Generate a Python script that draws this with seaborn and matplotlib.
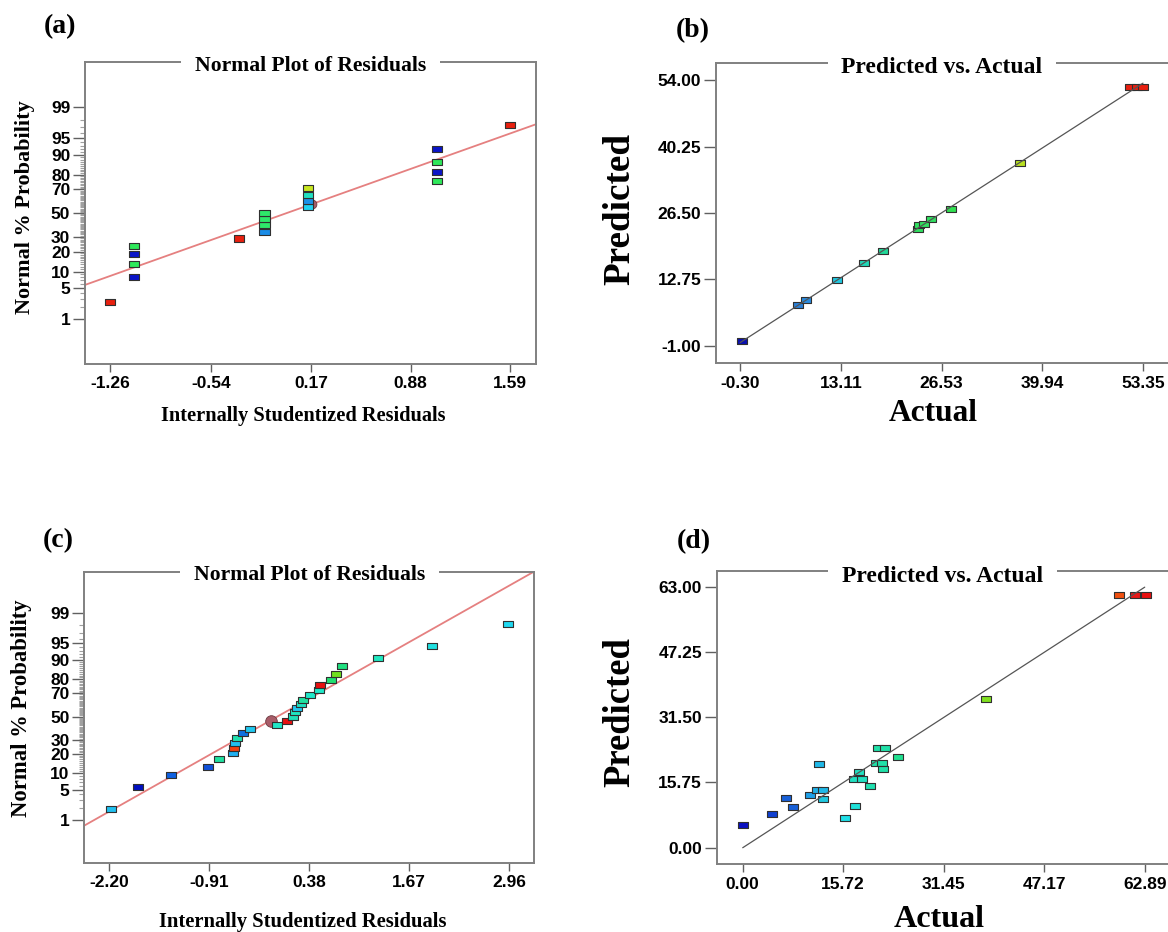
import numpy as np
import pandas as pd
import matplotlib
matplotlib.use("Agg")
import matplotlib.pyplot as plt
import seaborn as sns
from statistics import NormalDist
from matplotlib.markers import MarkerStyle
from matplotlib.ticker import FixedLocator, NullFormatter, FixedFormatter

# ---------------- data ----------------
# (a) normal plot of residuals
A_RESID = [-1.26, -1.09, -1.09, -1.09, -1.09, -0.34, -0.16, -0.16, -0.16, -0.16,
           0.15, 0.15, 0.15, 0.15, 1.07, 1.07, 1.07, 1.07, 1.59]
A_PROB = [2.6, 7.9, 13.2, 18.4, 23.7, 28.9, 34.2, 39.5, 44.7, 50.0,
          55.3, 60.5, 65.8, 71.1, 76.3, 81.6, 86.8, 92.1, 97.4]
A_COLORS = ["#e8200f", "#0a14c8", "#2ee85a", "#0a14c8", "#2ee85a", "#e8200f",
            "#1a8ce6", "#2ee86a", "#2ee86a", "#2ee86a", "#20d0f0", "#1a90e8",
            "#20e0c0", "#c8e620", "#2ee85a", "#0a14c8", "#2ee85a", "#0a14c8", "#e8200f"]
A_HIDDEN = [0.18, 57.9]
A_LINE = [1.098, 0.004]          # slope, intercept (z units)
A_XTICKS = [-1.26, -0.54, 0.17, 0.88, 1.59]

# (b) predicted vs actual
B_ACTUAL = [0.0, 7.35, 8.44, 12.64, 16.2, 18.7, 23.34, 23.5, 24.2, 25.1, 27.8, 36.96, 51.58, 52.55, 53.35]
B_PRED = [0.0, 7.48, 8.45, 12.65, 16.23, 18.7, 23.18, 24.0, 24.3, 25.3, 27.4, 36.9, 52.5, 52.5, 52.5]
B_COLORS = ["#0a10b0", "#2a80d8", "#2a8ce0", "#20c8e0", "#20d8b8", "#20d898", "#30e060",
            "#30e060", "#30e060", "#30e060", "#30e050", "#b8e020", "#e82010", "#e82010", "#e82010"]
B_XTICKS = [-0.30, 13.11, 26.53, 39.94, 53.35]
B_YTICKS = [-1.00, 12.75, 26.50, 40.25, 54.00]
B_LINE = [-0.30, 53.35]

# (c) normal plot of residuals
C_RESID = [-2.18, -1.83, -1.40, -0.93, -0.78, -0.61, -0.59, -0.58, -0.55, -0.48, -0.38, -0.04,
           0.09, 0.17, 0.20, 0.22, 0.27, 0.30, 0.39, 0.50, 0.52, 0.66, 0.72, 0.80, 1.27, 1.96, 2.95]
C_PROB = [1.9, 5.6, 9.3, 13.0, 16.7, 20.4, 24.1, 27.8, 31.5, 35.2, 38.9, 42.6, 46.3, 50.0,
          53.7, 57.4, 61.1, 64.8, 68.5, 72.2, 75.9, 79.6, 83.3, 87.0, 90.7, 94.4, 98.1]
C_COLORS = ["#20c0f0", "#0010c0", "#1060e0", "#1050d8", "#20e0a0", "#20b0f0", "#f04010",
            "#20c0f0", "#20e0b0", "#1070e0", "#20c8f0", "#20e8c8", "#e81010", "#20e0b8",
            "#20e8c0", "#20c8f0", "#20e0c0", "#20e0a0", "#20e8c8", "#20e8c8", "#e81010",
            "#20e070", "#70e020", "#20e080", "#20e8c0", "#20e0e0", "#20d8f0"]
C_HIDDEN = [-0.12, 45.9]
C_LINE = [0.985, 0.03]
C_XTICKS = [-2.20, -0.91, 0.38, 1.67, 2.96]

# (d) predicted vs actual
D_ACTUAL = [0.0, 4.52, 6.72, 7.88, 10.55, 11.65, 12.63, 12.0, 12.63, 16.0, 17.62, 17.44, 18.14,
            18.6, 19.93, 21.1, 22.25, 20.92, 21.85, 22.02, 24.28, 38.07, 58.82, 61.31, 63.05]
D_PRED = [5.55, 8.13, 11.99, 9.74, 12.71, 13.92, 13.92, 20.2, 11.83, 7.08, 10.06, 16.5, 18.18,
          16.65, 14.97, 23.98, 23.98, 20.52, 20.52, 18.9, 21.8, 35.8, 61.0, 61.0, 61.0]
D_COLORS = ["#0a10c0", "#1040d0", "#1860d8", "#1860d8", "#20a0e8", "#20b0e8", "#20b8e8",
            "#20b8e8", "#20c8e0", "#20e0e8", "#20e0d8", "#20e0c0", "#20e0c0", "#20e0c0",
            "#20e0b0", "#20e0a8", "#20e0a8", "#20e0a8", "#20e0a8", "#20e0a8", "#20e090",
            "#80e020", "#f05010", "#e81818", "#e81010"]
D_XTICKS = [0.00, 15.72, 31.45, 47.17, 62.89]
D_YTICKS = [0.00, 15.75, 31.50, 47.25, 63.00]
D_LINE = [0.0, 62.89]

PROB_TICKS = [1, 5, 10, 20, 30, 50, 70, 80, 90, 95, 99]

# ---------------- style ----------------
sns.set_style("white")
plt.rcParams["font.family"] = ["Liberation Sans", "DejaVu Sans"]
plt.rcParams["axes.linewidth"] = 1.4
plt.rcParams["axes.edgecolor"] = "#808080"
plt.rcParams["text.color"] = "black"
plt.rcParams["axes.labelcolor"] = "black"

W, H = 1168, 932
fig = plt.figure(figsize=(W / 100, H / 100), dpi=100)
renderer = fig.canvas.get_renderer()

SERIF = "Liberation Serif"
ND = NormalDist()


def _fwd(p):
    p = np.ma.filled(np.ma.asarray(p, dtype=float), np.nan)
    q = np.clip(p / 100.0, 1e-12, 1 - 1e-12)
    res = np.full(q.size, np.nan)
    for i, v in enumerate(q.ravel()):
        if np.isfinite(v):
            res[i] = ND.inv_cdf(float(v))
    return res.reshape(q.shape)


def _inv(z):
    z = np.ma.filled(np.ma.asarray(z, dtype=float), np.nan)
    res = np.full(z.size, np.nan)
    for i, v in enumerate(z.ravel()):
        if np.isfinite(v):
            res[i] = ND.cdf(float(v)) * 100.0
    return res.reshape(z.shape)


def add_axes_px(l, t, r, b):
    return fig.add_axes([l / W, 1 - b / H, (r - l) / W, (b - t) / H])


def fig_xy(x, y):
    return x / W, 1 - y / H


RECT = MarkerStyle([(-1, -0.6), (1, -0.6), (1, 0.6), (-1, 0.6), (-1, -0.6)])


def scatter(ax, xs, ys, colors, s=52):
    df = pd.DataFrame({"x": xs, "y": ys, "id": [f"p{i}" for i in range(len(xs))]})
    pal = {f"p{i}": c for i, c in enumerate(colors)}
    sns.scatterplot(data=df, x="x", y="y", hue="id", palette=pal, legend=False, ax=ax,
                    marker=RECT, s=s, edgecolor="#303030", linewidth=0.8, zorder=3)


def fit(t, target, vertical=False):
    for _ in range(3):
        bb = t.get_window_extent(renderer)
        cur = bb.height if vertical else bb.width
        t.set_fontsize(t.get_fontsize() * target / cur)


def title(ax, text, target_w, base_off_px):
    t = ax.annotate(text, xy=(0.5, 1.0), xycoords="axes fraction",
                    xytext=(0, -base_off_px * 0.72), textcoords="offset points",
                    ha="center", va="baseline", family=SERIF, weight="bold",
                    fontsize=16, zorder=5, annotation_clip=False, color="black")
    fit(t, target_w)
    fs = t.get_fontsize()
    t.set_bbox(dict(boxstyle=f"square,pad={10.0 / fs:.3f}", fc="white", ec="none"))
    return t


def xlabel(ax, text, cx, base_y, target_w):
    t = ax.set_xlabel(text, family=SERIF, weight="bold", fontsize=16, va="baseline", ha="center")
    ax.xaxis.set_label_coords(*fig_xy(cx, base_y), transform=fig.transFigure)
    fit(t, target_w)


def ylabel(ax, text, cx, cy, target_h):
    t = ax.set_ylabel(text, family=SERIF, weight="bold", fontsize=16, va="center", ha="center",
                      rotation=90)
    ax.yaxis.set_label_coords(*fig_xy(cx, cy), transform=fig.transFigure)
    fit(t, target_h, vertical=True)


def style_ticks(ax):
    ax.tick_params(axis="x", which="major", bottom=True, top=False, direction="out",
                   length=5.8, width=1.0, color="#606060", labelcolor="black",
                   labelsize=12.5, pad=3)
    ax.tick_params(axis="y", which="major", left=True, right=False, direction="out",
                   length=8.6, width=1.0, color="#606060", labelcolor="black",
                   labelsize=12.5, pad=2)
    for lab in ax.get_xticklabels() + ax.get_yticklabels():
        lab.set_fontweight("bold")


def normal_panel(ax, resid, prob, colors, hidden, line, xticks, xlim, ylim, hidden_size):
    ax.set_yscale("function", functions=(_fwd, _inv))
    xs = np.linspace(xlim[0], xlim[1], 200)
    ys = _inv(line[0] * xs + line[1])
    sns.lineplot(x=xs, y=ys, sort=False, estimator=None, color="#e58080", lw=1.3, ax=ax, zorder=2)
    sns.scatterplot(x=[hidden[0]], y=[hidden[1]], marker="o", s=hidden_size, color="#a85c68",
                    edgecolor="#6a3a40", linewidth=0.6, ax=ax, legend=False, zorder=2.5)
    scatter(ax, resid, prob, colors)
    ax.set_xlim(*xlim)
    ax.set_ylim(*ylim)
    ax.set_xticks(xticks)
    ax.set_xticklabels([f"{v:.2f}" for v in xticks])
    ax.yaxis.set_major_locator(FixedLocator(PROB_TICKS))
    ax.yaxis.set_major_formatter(FixedFormatter([str(v) for v in PROB_TICKS]))
    minor = [v for v in range(2, 99) if v not in PROB_TICKS]
    ax.yaxis.set_minor_locator(FixedLocator(minor))
    ax.yaxis.set_minor_formatter(NullFormatter())
    ax.tick_params(axis="y", which="minor", left=True, direction="out", length=3.8, width=0.8,
                   color="#a0a0a0")
    style_ticks(ax)


def pva_panel(ax, actual, pred, colors, line, xticks, yticks, xlim, ylim):
    scatter(ax, actual, pred, colors)
    sns.lineplot(x=line, y=line, sort=False, estimator=None, color="#555555", lw=0.9, ax=ax,
                 zorder=4)
    ax.set_xlim(*xlim)
    ax.set_ylim(*ylim)
    ax.set_xticks(xticks)
    ax.set_xticklabels([f"{v:.2f}" for v in xticks])
    ax.set_yticks(yticks)
    ax.set_yticklabels([f"{v:.2f}" for v in yticks])
    ax.spines["right"].set_visible(False)
    style_ticks(ax)


# ---------------- panels ----------------
axA = add_axes_px(85, 62.3, 535.7, 364)
axB = add_axes_px(716, 62.7, 1168, 363.3)
axC = add_axes_px(84.3, 571.7, 534.3, 862.7)
axD = add_axes_px(716.7, 571, 1168, 864.3)

normal_panel(axA, A_RESID, A_PROB, A_COLORS, A_HIDDEN, A_LINE, A_XTICKS,
             (-1.438, 1.771), (0.0466, 99.9534), 40)
normal_panel(axC, C_RESID, C_PROB, C_COLORS, C_HIDDEN, C_LINE, C_XTICKS,
             (-2.5226, 3.283), (0.0501, 99.944), 70)
pva_panel(axB, B_ACTUAL, B_PRED, B_COLORS, B_LINE, B_XTICKS, B_YTICKS,
          (-3.51, 56.68), (-4.58, 57.58))
pva_panel(axD, D_ACTUAL, D_PRED, D_COLORS, D_LINE, D_XTICKS, D_YTICKS,
          (-4.07, 66.53), (-4.0, 66.79))

title(axA, "Normal Plot of Residuals", 231, 8.4)
title(axC, "Normal Plot of Residuals", 231, 8.3)
title(axB, "Predicted vs. Actual", 200, 10.6)
title(axD, "Predicted vs. Actual", 200, 11.0)

xlabel(axA, "Internally Studentized Residuals", 303.6, 420.7, 286)
xlabel(axC, "Internally Studentized Residuals", 302.8, 927.3, 288)
xlabel(axB, "Actual", 932.8, 420.7, 89)
xlabel(axD, "Actual", 939, 927.3, 91)

ylabel(axA, "Normal % Probability", 25.4, 207.5, 215)
ylabel(axC, "Normal % Probability", 21.5, 708.5, 217)
ylabel(axB, "Predicted", 620, 209, 152)
ylabel(axD, "Predicted", 619.7, 711.7, 150)

for lab, (x, y) in zip(["(a)", "(b)", "(c)", "(d)"],
                       [(60.3, 26.7), (692.7, 31), (58.5, 541), (693.8, 542)]):
    fig.text(*fig_xy(x, y), lab, family=SERIF, weight="bold", fontsize=20,
             ha="center", va="center", color="black")

fig.savefig("out.png", dpi=100)
